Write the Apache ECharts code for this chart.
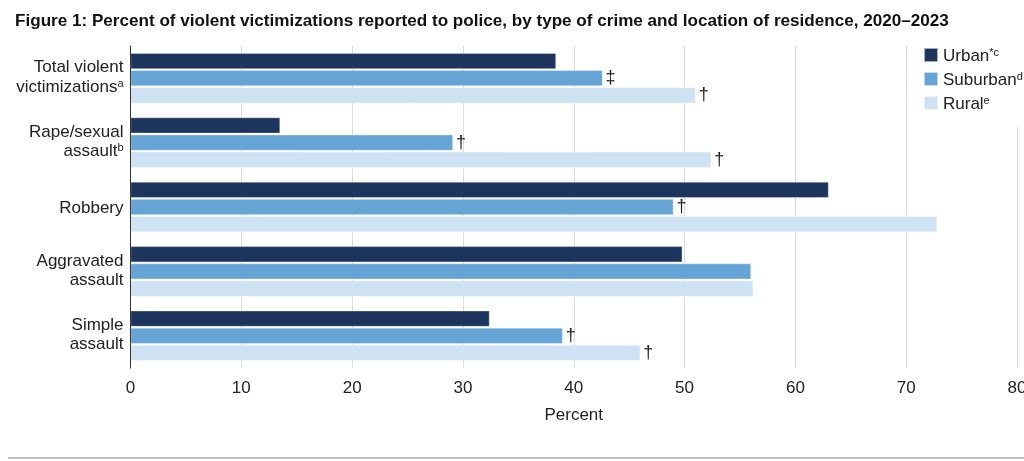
<!DOCTYPE html>
<html>
<head>
<meta charset="utf-8">
<script src="https://cdn.jsdelivr.net/npm/echarts@6/dist/echarts.min.js"></script>
<style>
html,body{margin:0;padding:0;background:#fff;}
#chart{width:1024px;height:461px;}
</style>
</head>
<body>
<div id="chart"></div>
<script>
// ---- data ----
const categories = ['Total violent\nvictimizations', 'Rape/sexual\nassault', 'Robbery', 'Aggravated\nassault', 'Simple\nassault'];
const categoryNotes = ['a', 'b', '', '', ''];
const seriesNames = ['Urban', 'Suburban', 'Rural'];
const seriesNotes = ['*c', 'd', 'e'];
const urban = [38.4, 13.5, 63.0, 49.8, 32.4];
const suburban = [42.6, 29.1, 49.0, 56.0, 39.0];
const rural = [51.0, 52.4, 72.8, 56.2, 46.0];
const urbanMarks = ['', '', '', '', ''];
const suburbanMarks = ['‡', '†', '†', '', '†'];
const ruralMarks = ['†', '†', '', '', '†'];
const xTicks = [0, 10, 20, 30, 40, 50, 60, 70, 80];

const colors = ['#1d355c', '#66a4d6', '#cfe2f3'];
const font = 'Liberation Sans, Arial, sans-serif';

function withMarks(values, marks) {
  return values.map((v, i) => ({
    value: v,
    label: { show: marks[i] !== '', formatter: marks[i] }
  }));
}

const categoryItems = categories.map(c => ({
  value: c,
  textStyle: { padding: c.indexOf('\n') >= 0 ? [0, 0, 4, 0] : [0, 0, 0, 0] }
}));

const chart = echarts.init(document.getElementById('chart'));
const allValues = [urban, suburban, rural];
const allMarks = [urbanMarks, suburbanMarks, ruralMarks];

chart.setOption({
  animation: false,
  textStyle: { fontFamily: font },
  title: {
    text: 'Figure 1: Percent of violent victimizations reported to police, by type of crime and location of residence, 2020–2023',
    left: 10, top: 8,
    textStyle: { fontFamily: font, fontSize: 17.1, fontWeight: 'bold', color: '#111' }
  },
  legend: {
    orient: 'vertical',
    left: 918, top: 42,
    itemWidth: 14, itemHeight: 14, itemGap: 4,
    backgroundColor: '#fff',
    padding: [3, 10, 14, 5],
    icon: 'rect',
    data: seriesNames,
    formatter: name => {
      const i = seriesNames.indexOf(name);
      return '{n|' + name + '}{sup|' + seriesNotes[i] + '}';
    },
    textStyle: {
      color: '#222',
      rich: {
        n: { fontSize: 17, fontFamily: font, color: '#222', lineHeight: 20, verticalAlign: 'bottom' },
        sup: { fontSize: 11, fontFamily: font, color: '#222', lineHeight: 20, verticalAlign: 'top', padding: [2, 0, 0, 0] }
      }
    }
  },
  grid: { left: 130.5, right: 7, top: 46, bottom: 93, containLabel: false, outerBoundsMode: 'none' },
  xAxis: {
    type: 'value',
    min: 0, max: 80, interval: 10,
    name: 'Percent',
    nameLocation: 'middle',
    nameGap: 39,
    nameTextStyle: { fontSize: 17, color: '#222', fontFamily: font },
    axisLine: { show: false },
    axisTick: { show: false },
    axisLabel: { fontSize: 17, color: '#222', margin: 12, fontFamily: font,
      formatter: v => xTicks.includes(v) ? String(v) : '' },
    splitLine: { show: true, lineStyle: { color: '#dcdcdc', width: 1 } }
  },
  yAxis: {
    type: 'category',
    inverse: true,
    z: 5,
    data: categoryItems,
    axisLine: { show: true, lineStyle: { color: '#333', width: 1 } },
    axisTick: { show: false },
    axisLabel: {
      margin: 7,
      formatter: (value, idx) => {
        const lines = value.split('\n');
        const note = categoryNotes[idx];
        return lines.map((l, j) => '{n|' + l + '}' + (j === lines.length - 1 && note ? '{sup|' + note + '}' : '')).join('\n');
      },
      rich: {
        n: { fontSize: 17, fontFamily: font, color: '#222', lineHeight: 19.5, verticalAlign: 'bottom' },
        sup: { fontSize: 11, fontFamily: font, color: '#222', lineHeight: 19.5, verticalAlign: 'top', padding: [2, 0, 0, 0] }
      }
    }
  },
  series: seriesNames.map((name, k) => ({
    name: name,
    type: 'bar',
    data: withMarks(allValues[k], allMarks[k]),
    barCategoryGap: '22%',
    barGap: '8%',
    itemStyle: { color: colors[k], borderColor: 'rgba(255,255,255,0.6)', borderWidth: 0.6 },
    label: { position: 'right', distance: 3, fontSize: 18, color: '#222', fontFamily: font },
    emphasis: { disabled: true }
  })),
  graphic: [{
    type: 'line',
    shape: { x1: 8, y1: 458, x2: 1024, y2: 458 },
    style: { stroke: '#aaaaaa', lineWidth: 1.5 }
  }]
});
</script>
</body>
</html>
